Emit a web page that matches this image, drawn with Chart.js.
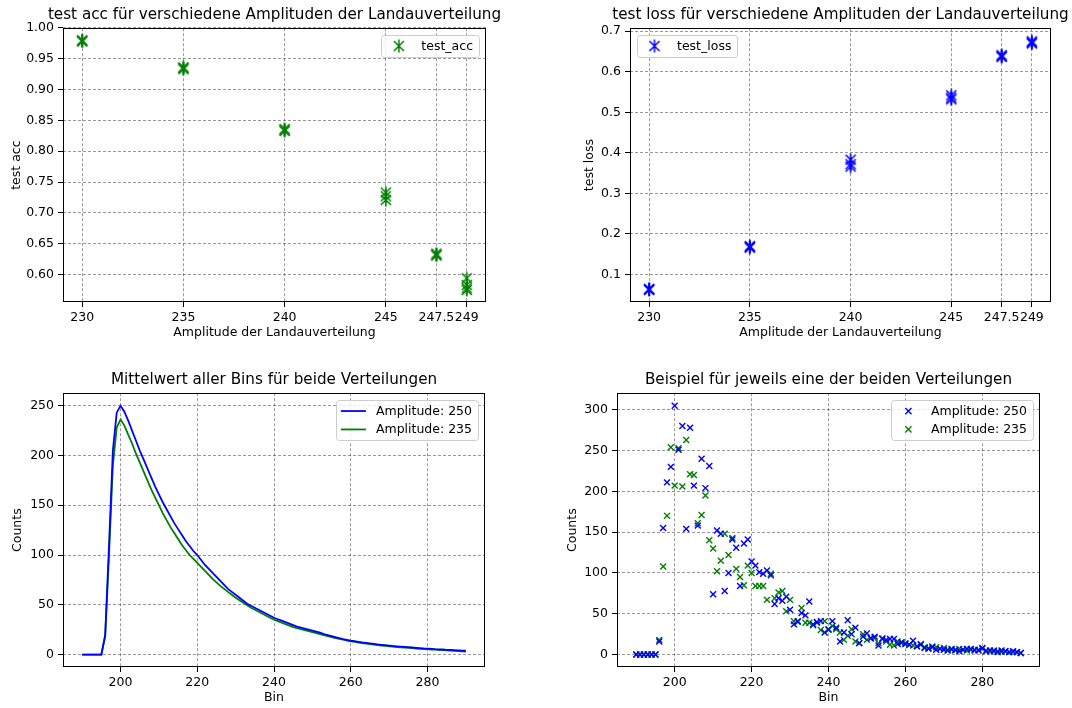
<!DOCTYPE html>
<html><head><meta charset="utf-8">
<script src="https://cdn.jsdelivr.net/npm/chart.js@4.4.1/dist/chart.umd.min.js"></script>
<style>
html,body{margin:0;padding:0;background:#fff;}
body{width:1072px;height:708px;position:relative;overflow:hidden;}
canvas{position:absolute;}
</style></head><body>
<canvas id="c1" width="549" height="343" style="left:0;top:0"></canvas>
<canvas id="c2" width="561" height="343" style="left:560px;top:0"></canvas>
<canvas id="c3" width="548" height="343" style="left:0;top:365px"></canvas>
<canvas id="c4" width="537" height="343" style="left:560px;top:365px"></canvas>
<script>
// ---------- data ----------
const accAmplitudes = [230,230,230, 235,235,235, 240,240,240, 245,245,245, 247.5,247.5,247.5, 249,249,249,249];
const testAcc       = [0.979,0.978,0.980, 0.935,0.936,0.933, 0.833,0.836,0.834, 0.733,0.727,0.721, 0.632,0.634,0.631, 0.594,0.583,0.578,0.575];
const lossAmplitudes = [230,230,230, 235,235,235, 240,240,240, 245,245,245, 247.5,247.5,247.5, 249,249,249];
const testLoss       = [0.063,0.064,0.062, 0.168,0.170,0.166, 0.383,0.372,0.366, 0.542,0.536,0.532, 0.641,0.638,0.637, 0.675,0.672,0.670];
const amplitudeTicks = [230,235,240,245,247.5,249];
const accTicks  = [0.60,0.65,0.70,0.75,0.80,0.85,0.90,0.95,1.00];
const lossTicks = [0.1,0.2,0.3,0.4,0.5,0.6,0.7];

const bins = [190,191,192,193,194,195,196,197,198,199,
  200,201,202,203,204,205,206,207,208,209,
  210,211,212,213,214,215,216,217,218,219,
  220,221,222,223,224,225,226,227,228,229,
  230,231,232,233,234,235,236,237,238,239,
  240,241,242,243,244,245,246,247,248,249,
  250,251,252,253,254,255,256,257,258,259,
  260,261,262,263,264,265,266,267,268,269,
  270,271,272,273,274,275,276,277,278,279,
  280,281,282,283,284,285,286,287,288,289,
  290];
const meanAmp250 = [0,0,0,0,0,0,20,110,205,243,
  250,244,235,225,215,205,196,187,178,169,
  161,153,146,139,132,126,120,114,109,104,
  100,95,90,86,82,78,74,70,66,63,
  60,57,54,51,49,47,45,43,41,39,
  37,35.5,34,32.5,31,29.5,28,27,26,25,
  24,23,22,20.5,19.5,18.5,17.5,16.5,15.5,14.8,
  14,13.4,12.8,12.2,11.7,11.2,10.7,10.2,9.8,9.4,
  9.0,8.6,8.3,8.0,7.7,7.4,7.1,6.8,6.5,6.2,
  6.0,5.8,5.5,5.3,5.1,4.8,4.6,4.4,4.2,4.0,
  3.8];
const meanAmp235 = [0,0,0,0,0,0,18,100,190,228,
  236,230,221,212,202,193,184,175,166,158,
  150,142,135,128,122,116,110,105,100,96,
  92,88,84,80,76,72.5,69,66,63,60,
  57,54.5,52,49.5,47,45,43,41,39,37,
  35,33.5,32,30.5,29,27.5,26.5,25.5,24.5,23.5,
  22.5,21.5,20.5,19.5,18.5,17.5,16.5,15.7,14.9,14.1,
  13.3,12.7,12.1,11.5,11.0,10.5,10.0,9.5,9.1,8.7,
  8.3,7.9,7.6,7.3,7.0,6.7,6.4,6.1,5.8,5.6,
  5.4,5.1,4.9,4.6,4.4,4.1,3.9,3.6,3.4,3.1,
  2.9];
const sampleAmp250 = [0,0,0,0,0,0,16,155,211,230,
  305,251,280,154,278,207,158,240,204,231,
  74,152,148,78,100,141,131,84,136,141,
  114,109,101,99,103,97,62,69,66,71,
  55,37,41,51,48,65,37,40,41,27,
  31,41,33,16,27,42,25,33,14,22,
  26,20,22,11,19,18,19,19,13,15,
  13,12,17,10,12,8,7,9,6,7,
  6,5,7,6,4,6,7,7,6,5,
  8,4,5,4,3,5,4,3,4,3,
  2];
const sampleAmp235 = [0,0,0,0,0,0,18,108,170,254,
  207,253,206,263,221,220,161,171,195,140,
  130,102,115,148,122,143,105,95,85,109,
  100,84,84,84,67,99,69,76,78,53,
  67,41,40,57,39,39,36,39,30,41,
  30,35,31,27,18,23,31,16,14,25,
  18,20,20,14,20,16,12,11,16,14,
  14,12,11,10,13,9,8,10,9,7,
  8,6,6,5,7,6,5,6,5,6,
  7,5,4,5,4,3,4,3,3,3,
  2];
const binTicks = [200,220,240,260,280];
const meanCountTicks = [0,50,100,150,200,250];
const sampleCountTicks = [0,50,100,150,200,250,300];

// ---------- styling helpers ----------
const FONT = 'DejaVu Sans';
Chart.defaults.font.family = FONT;
Chart.defaults.font.size = 12.5;
Chart.defaults.color = '#000';
Chart.defaults.animation = false;
Chart.defaults.devicePixelRatio = 1;

function asterisk(color) {
  const s = 14, c = document.createElement('canvas');
  c.width = s; c.height = s;
  const g = c.getContext('2d');
  g.strokeStyle = color; g.lineWidth = 1.5;
  g.beginPath();
  g.moveTo(2, 2); g.lineTo(12, 12);
  g.moveTo(12, 2); g.lineTo(2, 12);
  g.moveTo(7, 0.5); g.lineTo(7, 13.5);
  g.stroke();
  return c;
}

const frame = {
  id: 'frame',
  afterDatasetsDraw(chart) {
    const {ctx, chartArea: a} = chart;
    ctx.save();
    ctx.strokeStyle = '#000'; ctx.lineWidth = 1;
    ctx.strokeRect(Math.round(a.left) + 0.5, Math.round(a.top) + 0.5,
                   Math.round(a.right - a.left) - 1, Math.round(a.bottom - a.top) - 1);
    ctx.restore();
  }
};

const insideLegend = {
  id: 'insideLegend',
  afterDraw(chart, args, o) {
    if (!o || !o.display) return;
    const ctx = chart.ctx, a = chart.chartArea;
    ctx.save();
    ctx.font = '12.5px "' + FONT + '"';
    const dss = chart.data.datasets;
    const tw = Math.max(...dss.map(d => ctx.measureText(d.label).width));
    const pad = 5, handle = 25, gap = 10, rowH = 18.4;
    const w = pad + handle + gap + tw + pad + 1;
    const h = 22 + (dss.length - 1) * rowH;
    const x = o.align === 'left' ? a.left + 7 : a.right - 7 - w;
    const y = a.top + 7;
    ctx.beginPath();
    ctx.roundRect(Math.round(x) + 0.5, Math.round(y) + 0.5, Math.round(w), Math.round(h), 3);
    ctx.fillStyle = 'rgba(255,255,255,0.8)';
    ctx.fill();
    ctx.strokeStyle = '#cccccc'; ctx.lineWidth = 1;
    ctx.stroke();
    dss.forEach((d, i) => {
      const cy = y + 10.8 + i * rowH;
      const hx = x + pad;
      if (o.kind === 'line') {
        ctx.strokeStyle = d.borderColor; ctx.lineWidth = d.borderWidth;
        ctx.beginPath(); ctx.moveTo(hx, cy); ctx.lineTo(hx + handle, cy); ctx.stroke();
      } else if (o.kind === 'image') {
        const img = d.pointStyle;
        ctx.drawImage(img, hx + handle / 2 - img.width / 2, cy - img.height / 2);
      } else {
        const r = 3.1, cx = hx + handle / 2;
        ctx.strokeStyle = d.borderColor; ctx.lineWidth = d.borderWidth;
        ctx.beginPath();
        ctx.moveTo(cx - r, cy - r); ctx.lineTo(cx + r, cy + r);
        ctx.moveTo(cx + r, cy - r); ctx.lineTo(cx - r, cy + r);
        ctx.stroke();
      }
      ctx.fillStyle = '#000'; ctx.textBaseline = 'middle'; ctx.textAlign = 'left';
      ctx.fillText(d.label, hx + handle + gap, cy + 0.5);
    });
    ctx.restore();
  }
};
Chart.register(frame, insideLegend);

function gridOpts() {
  return { color: 'rgba(0,0,0,0.5)', lineWidth: 0.8, drawTicks: true, tickLength: 5,
           tickColor: '#000', tickWidth: 1, tickBorderDash: [] };
}
function xScale(min, max, ticks, fmt, title) {
  return {
    type: 'linear', min, max,
    grid: gridOpts(),
    border: { display: false, dash: [3, 2] },
    ticks: { autoSkip: false, maxRotation: 0, minRotation: 0, padding: 3, color: '#000',
             callback: v => fmt(v) },
    afterBuildTicks: s => { s.ticks = ticks.map(v => ({ value: v })); },
    afterFit: s => { s.height = 41; },
    title: { display: true, text: title, color: '#000', font: { size: 12.5 }, padding: { top: 0, bottom: 2.5 } }
  };
}
function yScale(min, max, ticks, fmt, title, width, titlePad) {
  return {
    type: 'linear', min, max,
    grid: gridOpts(),
    border: { display: false, dash: [3, 2] },
    ticks: { autoSkip: false, padding: 4, color: '#000', callback: v => fmt(v) },
    afterBuildTicks: s => { s.ticks = ticks.map(v => ({ value: v })); },
    afterFit: s => { s.width = width; },
    title: { display: true, text: title, color: '#000', font: { size: 12.5 }, padding: { top: titlePad, bottom: 0 } }
  };
}
// empty right-hand spacer axis so the title centres over the plot area
function spacer(width) {
  return {
    type: 'linear', position: 'right', min: 0, max: 1,
    grid: { display: false, drawTicks: false }, border: { display: false },
    ticks: { display: false }, title: { display: false },
    afterFit: s => { s.width = width; }
  };
}
function titleOpts(text) {
  return { display: true, text, color: '#000', font: { size: 15.2, weight: 'normal' }, padding: { top: 6, bottom: 4 } };
}
const pts = (xs, ys) => xs.map((x, i) => ({ x, y: ys[i] }));
const ampFmt = v => String(v);

// ---------- chart 1: test acc ----------
new Chart(document.getElementById('c1'), {
  type: 'scatter',
  data: { datasets: [{ label: 'test_acc', data: pts(accAmplitudes, testAcc),
    pointStyle: asterisk('#008000'), pointRadius: 7, borderColor: '#008000', backgroundColor: '#008000' }] },
  options: {
    responsive: false,
    layout: { padding: 0 },
    plugins: { legend: { display: false }, tooltip: { enabled: false },
      title: titleOpts('test acc für verschiedene Amplituden der Landauverteilung'),
      insideLegend: { display: true, align: 'right', kind: 'image' } },
    scales: {
      x: xScale(229.05, 249.95, amplitudeTicks, ampFmt, 'Amplitude der Landauverteilung'),
      y: yScale(0.5555, 0.9995, accTicks, v => v.toFixed(2), 'test acc', 63, 9.5),
      yPad: spacer(63)
    }
  }
});

// ---------- chart 2: test loss ----------
new Chart(document.getElementById('c2'), {
  type: 'scatter',
  data: { datasets: [{ label: 'test_loss', data: pts(lossAmplitudes, testLoss),
    pointStyle: asterisk('#0000ff'), pointRadius: 7, borderColor: '#0000ff', backgroundColor: '#0000ff' }] },
  options: {
    responsive: false,
    layout: { padding: 0 },
    plugins: { legend: { display: false }, tooltip: { enabled: false },
      title: titleOpts('test loss für verschiedene Amplituden der Landauverteilung'),
      insideLegend: { display: true, align: 'left', kind: 'image' } },
    scales: {
      x: xScale(229.05, 249.95, amplitudeTicks, ampFmt, 'Amplitude der Landauverteilung'),
      y: yScale(0.032, 0.7074, lossTicks, v => v.toFixed(1), 'test loss', 70, 22.5),
      yPad: spacer(70)
    }
  }
});

// ---------- chart 3: mean of all bins ----------
new Chart(document.getElementById('c3'), {
  type: 'line',
  data: { datasets: [
    { label: 'Amplitude: 250', data: pts(bins, meanAmp250), borderColor: '#0000ff', borderWidth: 1.8, pointRadius: 0, tension: 0, fill: false },
    { label: 'Amplitude: 235', data: pts(bins, meanAmp235), borderColor: '#008000', borderWidth: 1.8, pointRadius: 0, tension: 0, fill: false }
  ] },
  options: {
    responsive: false,
    layout: { padding: 0 },
    plugins: { legend: { display: false }, tooltip: { enabled: false },
      title: titleOpts('Mittelwert aller Bins für beide Verteilungen'),
      insideLegend: { display: true, align: 'right', kind: 'line' } },
    scales: {
      x: xScale(185, 295, binTicks, v => String(v), 'Bin'),
      y: yScale(-12.5, 262.5, meanCountTicks, v => String(v), 'Counts', 63, 10.5),
      yPad: spacer(63)
    }
  }
});

// ---------- chart 4: one example each ----------
new Chart(document.getElementById('c4'), {
  type: 'scatter',
  data: { datasets: [
    { label: 'Amplitude: 250', data: pts(bins, sampleAmp250), pointStyle: 'crossRot', pointRadius: 4.2, borderWidth: 1.4, borderColor: '#0000ff', backgroundColor: '#0000ff' },
    { label: 'Amplitude: 235', data: pts(bins, sampleAmp235), pointStyle: 'crossRot', pointRadius: 4.2, borderWidth: 1.4, borderColor: '#008000', backgroundColor: '#008000' }
  ] },
  options: {
    responsive: false,
    layout: { padding: 0 },
    plugins: { legend: { display: false }, tooltip: { enabled: false },
      title: titleOpts('Beispiel für jeweils eine der beiden Verteilungen'),
      insideLegend: { display: true, align: 'right', kind: 'cross' } },
    scales: {
      x: xScale(185, 295, binTicks, v => String(v), 'Bin'),
      y: yScale(-15.25, 320.25, sampleCountTicks, v => String(v), 'Counts', 57, 5.5),
      yPad: spacer(57)
    }
  }
});
</script>
</body></html>
